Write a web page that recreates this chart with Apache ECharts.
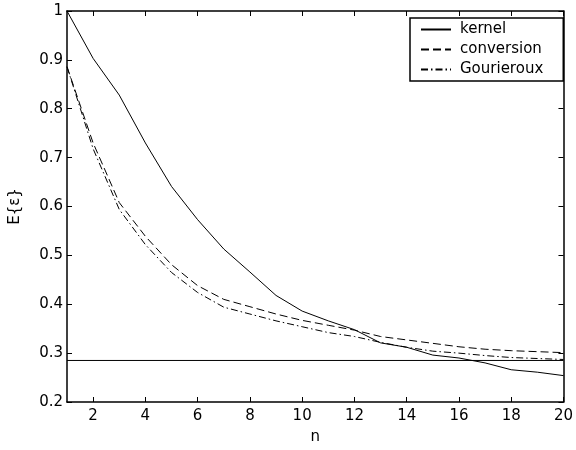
<!DOCTYPE html>
<html>
<head>
<meta charset="utf-8">
<script src="https://cdn.jsdelivr.net/npm/echarts@6/dist/echarts.min.js"></script>
<style>
  html, body { margin: 0; padding: 0; background: #fff; }
  #chart { width: 576px; height: 450px; }
</style>
</head>
<body>
<div id="chart"></div>
<script>
// Sample sizes n = 1..20
const n = [1, 2, 3, 4, 5, 6, 7, 8, 9, 10, 11, 12, 13, 14, 15, 16, 17, 18, 19, 20];

// Expected error E{ε} per estimator
const kernel = [1.000, 0.903, 0.828, 0.730, 0.641, 0.573, 0.513, 0.466, 0.418, 0.386,
                0.366, 0.348, 0.321, 0.312, 0.296, 0.290, 0.280, 0.266, 0.261, 0.254];
const conversion = [0.886, 0.730, 0.608, 0.539, 0.481, 0.438, 0.410, 0.395, 0.380, 0.367,
                    0.357, 0.347, 0.334, 0.327, 0.320, 0.313, 0.308, 0.305, 0.303, 0.301];
const gourieroux = [0.886, 0.718, 0.594, 0.522, 0.465, 0.424, 0.394, 0.380, 0.366, 0.354,
                    0.342, 0.334, 0.322, 0.312, 0.304, 0.300, 0.295, 0.291, 0.289, 0.287];

// Reference level drawn across the full range
const baselineLevel = 0.285;

// Tick positions
const xTicks = [2, 4, 6, 8, 10, 12, 14, 16, 18, 20];

const FONT = 'DejaVu Sans, Liberation Sans, Arial, sans-serif';
const FS = 15;
const pairs = (ys) => n.map((v, i) => [v, ys[i]]);

const chart = echarts.init(document.getElementById('chart'), null, { renderer: 'canvas' });

const axisLine = { show: true, onZero: false, lineStyle: { color: '#000', width: 1.5 } };
const tickIn = { show: true, inside: true, length: 5, lineStyle: { color: '#000', width: 1 } };

chart.setOption({
  animation: false,
  backgroundColor: '#fff',
  textStyle: { fontFamily: FONT },
  grid: { left: 65, top: 11, right: 12, bottom: 46, containLabel: false },
  legend: {
    orient: 'vertical',
    left: 410,
    top: 18,
    data: ['kernel', 'conversion', 'Gourieroux'],
    backgroundColor: '#fff',
    borderColor: '#000',
    borderWidth: 1.5,
    borderRadius: 0,
    padding: [4, 20, 4, 10],
    itemWidth: 30,
    itemHeight: 15,
    itemGap: 5,
    itemStyle: { opacity: 0 },
    textStyle: { color: '#000', fontSize: FS, fontFamily: FONT, padding: [0, 0, 0, 4] }
  },
  xAxis: [
    {
      type: 'value', min: 1, max: 20, position: 'bottom',
      name: 'n', nameLocation: 'middle', nameGap: 28,
      nameTextStyle: { color: '#000', fontSize: FS, fontFamily: FONT },
      axisLine: axisLine,
      axisTick: Object.assign({ customValues: xTicks }, tickIn),
      axisLabel: { customValues: xTicks, color: '#000', fontSize: FS, fontFamily: FONT, margin: 7 },
      splitLine: { show: false }
    },
    {
      type: 'value', min: 1, max: 20, position: 'top',
      axisLine: axisLine,
      axisTick: Object.assign({ customValues: xTicks }, tickIn),
      axisLabel: { show: false },
      splitLine: { show: false }
    }
  ],
  yAxis: [
    {
      type: 'value', min: 0.2, max: 1, interval: 0.1, position: 'left',
      name: 'E{ε}', nameLocation: 'middle', nameGap: 44, nameRotate: 90,
      nameTextStyle: { color: '#000', fontSize: FS, fontFamily: FONT },
      axisLine: axisLine,
      axisTick: tickIn,
      axisLabel: {
        color: '#000', fontSize: FS, fontFamily: FONT, margin: 4,
        formatter: (v) => (Math.abs(v - 1) < 1e-9 ? '1' : v.toFixed(1))
      },
      splitLine: { show: false }
    },
    {
      type: 'value', min: 0.2, max: 1, interval: 0.1, position: 'right',
      axisLine: axisLine,
      axisTick: tickIn,
      axisLabel: { show: false },
      splitLine: { show: false }
    }
  ],
  series: [
    {
      name: 'kernel', type: 'line', data: pairs(kernel),
      symbol: 'none', color: '#000',
      lineStyle: { color: '#000', width: 1, type: 'solid' }
    },
    {
      name: 'conversion', type: 'line', data: pairs(conversion),
      symbol: 'none', color: '#000',
      lineStyle: { color: '#000', width: 1, type: [8, 4] }
    },
    {
      name: 'Gourieroux', type: 'line', data: pairs(gourieroux),
      symbol: 'none', color: '#000',
      lineStyle: { color: '#000', width: 1, type: [7, 3, 1.5, 3] }
    },
    {
      name: 'baseline', type: 'line',
      data: [[n[0], baselineLevel], [n[n.length - 1], baselineLevel]],
      symbol: 'none', color: '#000',
      lineStyle: { color: '#000', width: 1, type: 'solid' }
    }
  ]
});
</script>
</body>
</html>
